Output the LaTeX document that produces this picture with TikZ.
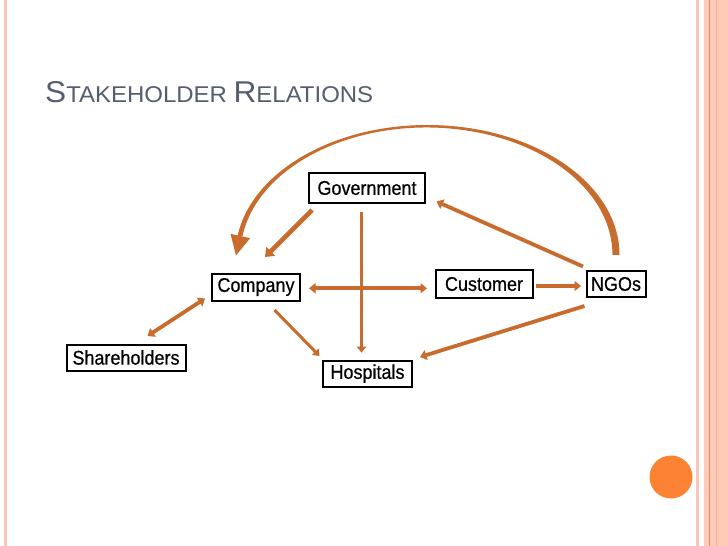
\documentclass[tikz,border=0pt]{standalone}
\usepackage{fontspec}
\usepackage{graphicx}
\setmainfont{Liberation Sans}
\usetikzlibrary{arrows.meta,calc}
\definecolor{arrowc}{RGB}{200,108,46}
\definecolor{titlec}{RGB}{84,94,110}
\definecolor{pinkline}{RGB}{247,198,182}
\definecolor{pinkfill}{RGB}{253,203,183}
\definecolor{pinkdark}{RGB}{228,135,95}
\definecolor{dotc}{RGB}{252,131,52}
\newcommand{\boxtxt}[1]{\scalebox{1}[1.1]{#1}}
\begin{document}
\begin{tikzpicture}[x=1pt,y=-1pt,
  box/.style={draw=black, line width=2pt, fill=white, inner sep=0pt,
    font=\fontsize{18}{20}\selectfont\addfontfeature{FakeBold=0.5}, align=center},
  arr/.style={draw=arrowc, line width=3.8pt, -{Triangle[length=6.5pt,width=10pt]}},
  darr/.style={draw=arrowc, line width=3.8pt, {Triangle[length=6.5pt,width=10pt]}-{Triangle[length=6.5pt,width=10pt]}},
  thinarr/.style={draw=arrowc, line width=3pt, -{Triangle[length=6pt,width=9pt]}},
  thickarr/.style={draw=arrowc, line width=4.6pt, -{Triangle[length=8pt,width=12pt]}}]
\useasboundingbox (0,0) rectangle (728,546);
\fill[white] (0,0) rectangle (728,546);
% slide frame
\fill[pinkline] (4,0) rectangle (7,546);
\fill[pinkline] (696,0) rectangle (699,546);
\fill[pinkfill] (704,0) rectangle (728,546);
\fill[pinkdark] (709,0) rectangle (710,546);
\fill[pinkdark!45!pinkfill] (716,0) rectangle (717,546);
\fill[dotc] (671,477) circle[radius=21.5pt];
% title
\node[anchor=base west, inner sep=0pt, text=titlec] (title) at (45,102)
  {\resizebox{328pt}{21pt}{\fontsize{29}{29}\selectfont S\fontsize{22}{22}\selectfont TAKEHOLDER \fontsize{29}{29}\selectfont R\fontsize{22}{22}\selectfont ELATIONS}};
% nodes
\node[box, minimum width=116pt, minimum height=30pt] (gov) at (367,188) {\boxtxt{Government}};
\node[box, minimum width=88pt, minimum height=27pt] (comp) at (256,287) {\boxtxt{Company}};
\node[box, minimum width=97pt, minimum height=28pt] (cust) at (484,284) {\boxtxt{Customer}};
\node[box, minimum width=59pt, minimum height=26pt] (ngo) at (616,284) {\boxtxt{NGOs}};
\node[box, minimum width=119pt, minimum height=26pt] (sh) at (126,357.5) {\boxtxt{Shareholders}};
\node[box, minimum width=89pt, minimum height=26pt] (hosp) at (367.5,373.7) {\boxtxt{Hospitals}};
% connectors
\draw[thickarr] ([shift={(-55,22)}]gov.center) -- ([shift={(9,-30)}]comp.center);
\draw[thinarr] ([shift={(-5.5,23.5)}]gov.center) -- ([shift={(-6,-21)}]hosp.center);
\draw[darr] ([shift={(53,1.3)}]comp.center) -- ([shift={(-57,4.3)}]cust.center);
\draw[arr] ([shift={(51.5,2)}]cust.center) -- ([shift={(-35,2)}]ngo.center);
\draw[arr] ([shift={(-33,-17.5)}]ngo.center) -- ([shift={(69.5,13.5)}]gov.center);
\draw[arr] ([shift={(-31.5,22)}]ngo.center) -- ([shift={(52.5,-16.7)}]hosp.center);
\draw[thinarr] ([shift={(18.5,23)}]comp.center) -- ([shift={(-48,-17.7)}]hosp.center);
\draw[darr] ([shift={(21.5,-21.5)}]sh.center) -- ([shift={(-51,11.5)}]comp.center);
% big curved arrow from NGOs to Company
\coordinate (arcR) at ([shift={(0,-29)}]ngo.center);
\coordinate (arcL) at ([shift={(-20,-31.5)}]comp.center);
\fill[arrowc] ([xshift=3.5pt]arcR) arc[start angle=0, end angle=171.5, x radius=192pt, y radius=130pt]
  -- ++(4.9pt,-0.35pt) arc[start angle=171.5, end angle=0, x radius=186pt, y radius=127.5pt] -- cycle;
\fill[arrowc] (arcL) -- ++(-5.5,-21.7) -- ++(19.6,4.4) -- cycle;
\end{tikzpicture}
\end{document}
